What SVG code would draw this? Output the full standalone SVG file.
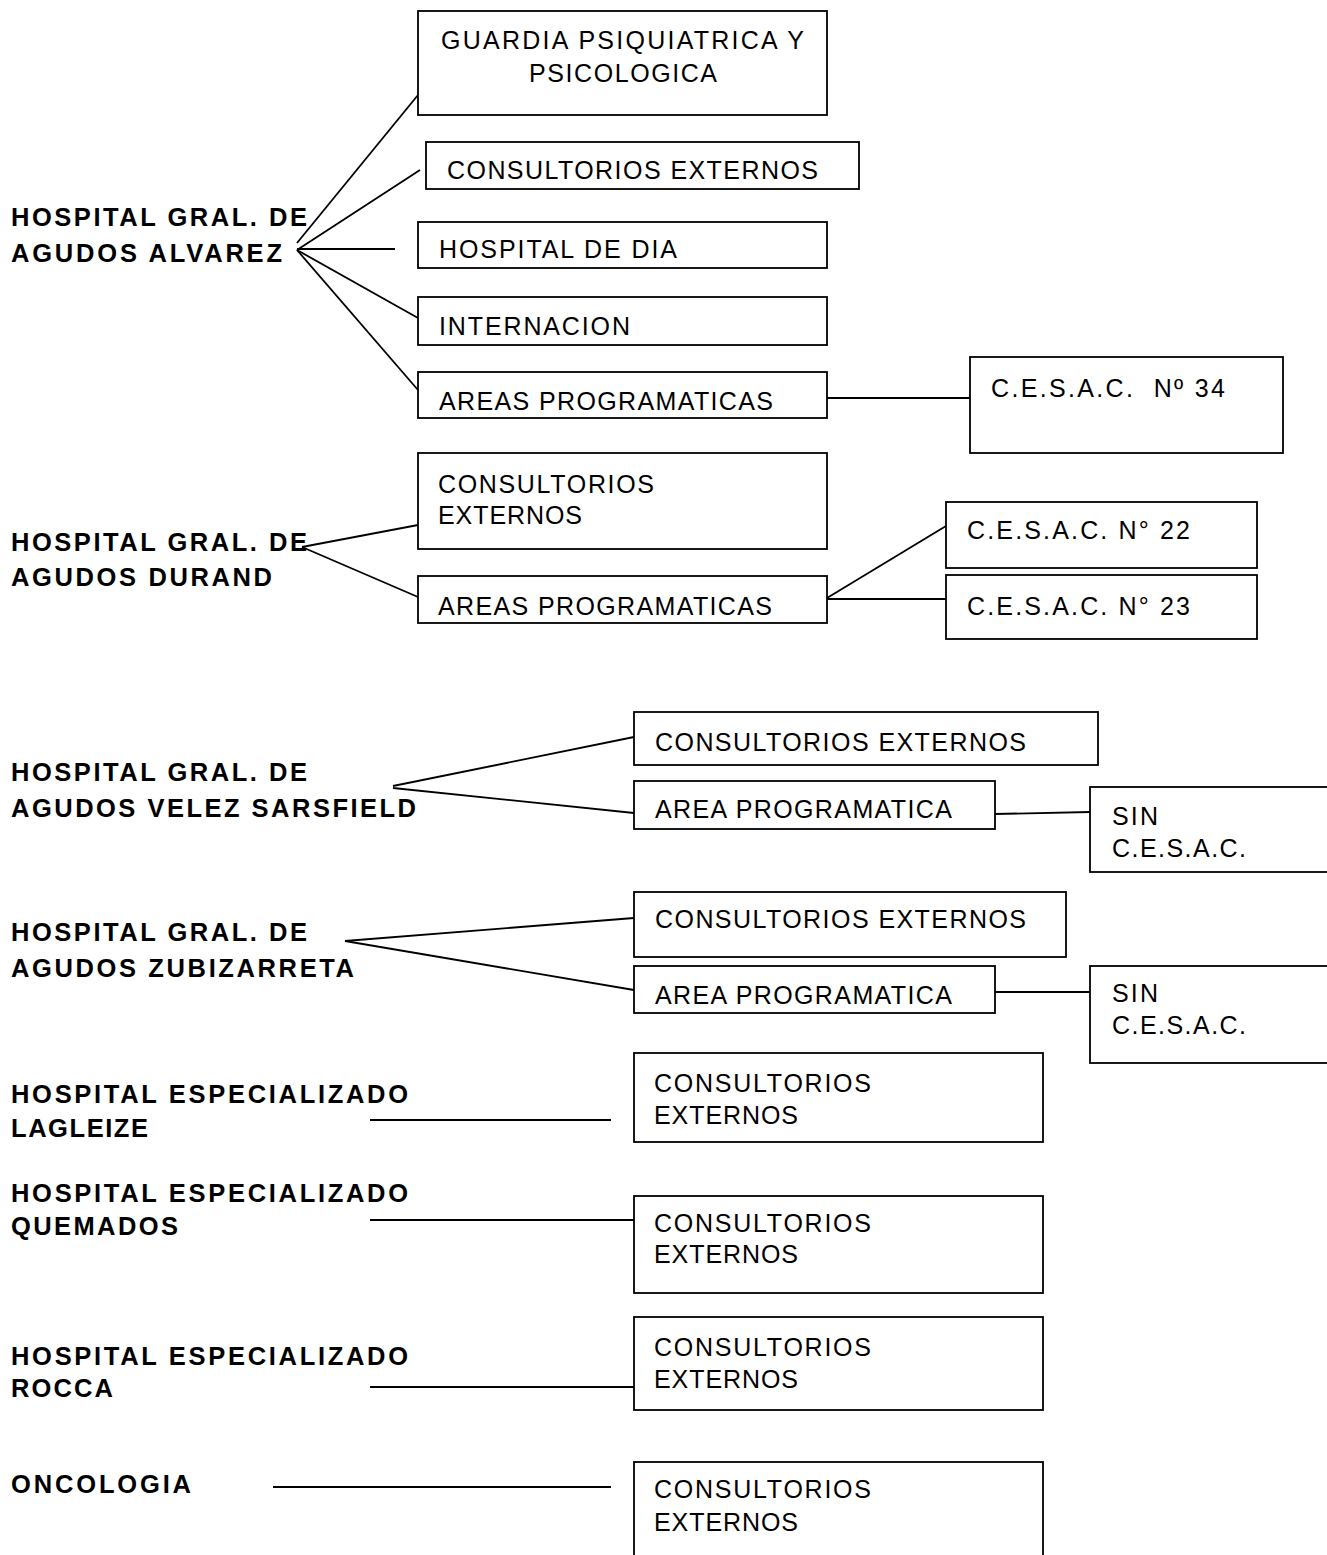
<svg xmlns="http://www.w3.org/2000/svg" width="1327" height="1555" viewBox="0 0 1327 1555">
<style>
.bg{fill:#fff}
.box{fill:#fff;stroke:#000;stroke-width:1.8}
.t{font-family:"Liberation Sans",Arial,sans-serif;font-size:25px;fill:#000}
.b{font-family:"Liberation Sans",Arial,sans-serif;font-size:25.5px;font-weight:bold;fill:#000}
.c line{stroke:#000;stroke-width:1.8}
</style>
<rect class="bg" x="0" y="0" width="1327" height="1555"/>
<g class="c" id="connectors">
<line x1="297" y1="243" x2="418" y2="95"/>
<line x1="297" y1="250" x2="420" y2="170"/>
<line x1="297" y1="249" x2="395" y2="249"/>
<line x1="297" y1="250" x2="418" y2="318"/>
<line x1="297" y1="250" x2="418" y2="390"/>
<line x1="827" y1="398" x2="970" y2="398"/>
<line x1="302" y1="547" x2="418" y2="525"/>
<line x1="302" y1="547" x2="418" y2="597"/>
<line x1="827" y1="598" x2="946" y2="526"/>
<line x1="827" y1="599" x2="946" y2="599"/>
<line x1="393" y1="786" x2="634" y2="737"/>
<line x1="393" y1="788" x2="634" y2="813"/>
<line x1="995" y1="814" x2="1090" y2="812"/>
<line x1="345" y1="941" x2="634" y2="918"/>
<line x1="345" y1="941" x2="634" y2="990"/>
<line x1="995" y1="992" x2="1090" y2="992"/>
<line x1="370" y1="1120" x2="611" y2="1120"/>
<line x1="370" y1="1220" x2="634" y2="1220"/>
<line x1="370" y1="1387" x2="634" y2="1387"/>
<line x1="273" y1="1487" x2="611" y2="1487"/>
</g>
<g id="alvarez"><text class="b" x="11" y="226" textLength="296" lengthAdjust="spacing">HOSPITAL GRAL. DE</text><text class="b" x="11" y="262" textLength="271" lengthAdjust="spacing">AGUDOS ALVAREZ</text></g>
<g id="durand"><text class="b" x="11" y="551" textLength="296" lengthAdjust="spacing">HOSPITAL GRAL. DE</text><text class="b" x="11" y="586" textLength="261" lengthAdjust="spacing">AGUDOS DURAND</text></g>
<g id="velez"><text class="b" x="11" y="781" textLength="296" lengthAdjust="spacing">HOSPITAL GRAL. DE</text><text class="b" x="11" y="817" textLength="405" lengthAdjust="spacing">AGUDOS VELEZ SARSFIELD</text></g>
<g id="zubizarreta"><text class="b" x="11" y="941" textLength="296" lengthAdjust="spacing">HOSPITAL GRAL. DE</text><text class="b" x="11" y="977" textLength="343" lengthAdjust="spacing">AGUDOS ZUBIZARRETA</text></g>
<g id="lagleize"><text class="b" x="11" y="1103" textLength="397" lengthAdjust="spacing">HOSPITAL ESPECIALIZADO</text><text class="b" x="11" y="1137" textLength="137" lengthAdjust="spacing">LAGLEIZE</text></g>
<g id="quemados"><text class="b" x="11" y="1202" textLength="397" lengthAdjust="spacing">HOSPITAL ESPECIALIZADO</text><text class="b" x="11" y="1235" textLength="167" lengthAdjust="spacing">QUEMADOS</text></g>
<g id="rocca"><text class="b" x="11" y="1365" textLength="397" lengthAdjust="spacing">HOSPITAL ESPECIALIZADO</text><text class="b" x="11" y="1397" textLength="102" lengthAdjust="spacing">ROCCA</text></g>
<g id="oncologia"><text class="b" x="11" y="1493" textLength="180" lengthAdjust="spacing">ONCOLOGIA</text></g>

<g id="guardia"><rect class="box" x="418" y="11" width="409" height="104"/><text class="t" x="441" y="49" textLength="363" lengthAdjust="spacing">GUARDIA PSIQUIATRICA Y</text><text class="t" x="529" y="82" textLength="188" lengthAdjust="spacing">PSICOLOGICA</text></g>
<g id="alv-consultorios"><rect class="box" x="426" y="142" width="433" height="47"/><text class="t" x="447" y="179" textLength="371" lengthAdjust="spacing">CONSULTORIOS EXTERNOS</text></g>
<g id="alv-hospital-dia"><rect class="box" x="418" y="222" width="409" height="46"/><text class="t" x="439" y="258" textLength="238" lengthAdjust="spacing">HOSPITAL DE DIA</text></g>
<g id="alv-internacion"><rect class="box" x="418" y="297" width="409" height="48"/><text class="t" x="439" y="335" textLength="191" lengthAdjust="spacing">INTERNACION</text></g>
<g id="alv-areas"><rect class="box" x="418" y="372" width="409" height="46"/><text class="t" x="439" y="410" textLength="334" lengthAdjust="spacing">AREAS PROGRAMATICAS</text></g>
<g id="cesac34"><rect class="box" x="970" y="357" width="313" height="96"/><text class="t" x="991" y="397" textLength="234" lengthAdjust="spacing" xml:space="preserve">C.E.S.A.C.  Nº 34</text></g>

<g id="dur-consultorios"><rect class="box" x="418" y="453" width="409" height="96"/><text class="t" x="438" y="493" textLength="216" lengthAdjust="spacing">CONSULTORIOS</text><text class="t" x="438" y="524" textLength="144" lengthAdjust="spacing">EXTERNOS</text></g>
<g id="dur-areas"><rect class="box" x="418" y="576" width="409" height="47"/><text class="t" x="438" y="615" textLength="334" lengthAdjust="spacing">AREAS PROGRAMATICAS</text></g>
<g id="cesac22"><rect class="box" x="946" y="502" width="311" height="66"/><text class="t" x="967" y="539" textLength="223" lengthAdjust="spacing">C.E.S.A.C. N° 22</text></g>
<g id="cesac23"><rect class="box" x="946" y="575" width="311" height="64"/><text class="t" x="967" y="615" textLength="223" lengthAdjust="spacing">C.E.S.A.C. N° 23</text></g>

<g id="vel-consultorios"><rect class="box" x="634" y="712" width="464" height="53"/><text class="t" x="655" y="751" textLength="371" lengthAdjust="spacing">CONSULTORIOS EXTERNOS</text></g>
<g id="vel-area"><rect class="box" x="634" y="781" width="361" height="48"/><text class="t" x="655" y="818" textLength="297" lengthAdjust="spacing">AREA PROGRAMATICA</text></g>
<g id="vel-sin"><rect class="box" x="1090" y="787" width="260" height="85"/><text class="t" x="1112" y="825" textLength="46" lengthAdjust="spacing">SIN</text><text class="t" x="1112" y="857" textLength="134" lengthAdjust="spacing">C.E.S.A.C.</text></g>

<g id="zub-consultorios"><rect class="box" x="634" y="892" width="432" height="65"/><text class="t" x="655" y="928" textLength="371" lengthAdjust="spacing">CONSULTORIOS EXTERNOS</text></g>
<g id="zub-area"><rect class="box" x="634" y="966" width="361" height="47"/><text class="t" x="655" y="1004" textLength="297" lengthAdjust="spacing">AREA PROGRAMATICA</text></g>
<g id="zub-sin"><rect class="box" x="1090" y="966" width="260" height="97"/><text class="t" x="1112" y="1002" textLength="46" lengthAdjust="spacing">SIN</text><text class="t" x="1112" y="1034" textLength="134" lengthAdjust="spacing">C.E.S.A.C.</text></g>

<g id="lag-consultorios"><rect class="box" x="634" y="1053" width="409" height="89"/><text class="t" x="654" y="1092" textLength="217" lengthAdjust="spacing">CONSULTORIOS</text><text class="t" x="654" y="1124" textLength="144" lengthAdjust="spacing">EXTERNOS</text></g>
<g id="que-consultorios"><rect class="box" x="634" y="1196" width="409" height="97"/><text class="t" x="654" y="1232" textLength="217" lengthAdjust="spacing">CONSULTORIOS</text><text class="t" x="654" y="1263" textLength="144" lengthAdjust="spacing">EXTERNOS</text></g>
<g id="roc-consultorios"><rect class="box" x="634" y="1317" width="409" height="93"/><text class="t" x="654" y="1356" textLength="217" lengthAdjust="spacing">CONSULTORIOS</text><text class="t" x="654" y="1388" textLength="144" lengthAdjust="spacing">EXTERNOS</text></g>
<g id="onc-consultorios"><rect class="box" x="634" y="1462" width="409" height="120"/><text class="t" x="654" y="1498" textLength="217" lengthAdjust="spacing">CONSULTORIOS</text><text class="t" x="654" y="1531" textLength="144" lengthAdjust="spacing">EXTERNOS</text></g>
</svg>
